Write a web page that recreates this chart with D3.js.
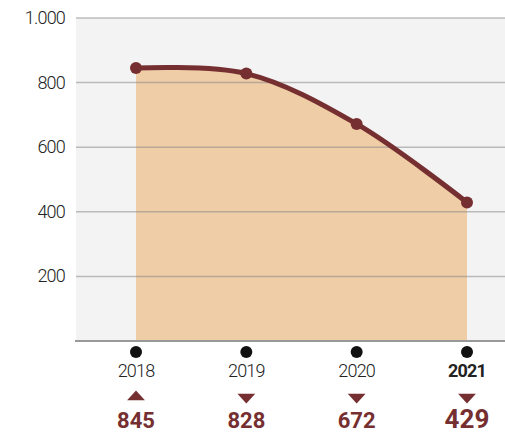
<!DOCTYPE html>
<html>
<head>
<meta charset="utf-8">
<script src="https://cdn.jsdelivr.net/npm/d3@7"></script>
<style>
  body { margin: 0; background: #fff; }
  svg { display: block; font-family: Roboto, "Noto Sans", sans-serif; }
</style>
</head>
<body>
<div id="chart"></div>
<script>
var years = ["2018", "2019", "2020", "2021"];
var values = [845, 828, 672, 429];
var trend = ["up", "down", "down", "down"];
var yTicks = [200, 400, 600, 800, 1000];
var yTickLabels = ["200", "400", "600", "800", "1.000"];

var svgwidth = 505;
var svgheight = 434;

var svg = d3.select("#chart")
  .append("svg")
  .attr("width", svgwidth)
  .attr("height", svgheight);

var plotLeft = 76, plotRight = 505, plotTop = 18, plotBottom = 341;

var xscale = d3.scalePoint()
  .domain(years)
  .range([136, 467]);

var yscale = d3.scaleLinear()
  .domain([0, 1000])
  .range([plotBottom, plotTop]);

// background
svg.append("rect")
  .attr("x", plotLeft)
  .attr("y", plotTop)
  .attr("width", plotRight - plotLeft)
  .attr("height", plotBottom - plotTop)
  .attr("fill", "#f3f3f3");

var data = years.map(function(y, i) { return {year: y, value: values[i]}; });

var curve = d3.curveCatmullRom.alpha(0.5);

var area = d3.area()
  .x(d => xscale(d.year))
  .y0(yscale(0))
  .y1(d => yscale(d.value))
  .curve(curve);

svg.append("path")
  .datum(data)
  .attr("d", area)
  .attr("fill", "#efcda6");

// gridlines
svg.selectAll(".grid")
  .data(yTicks)
  .enter()
  .append("line")
  .attr("x1", plotLeft)
  .attr("x2", plotRight)
  .attr("y1", d => yscale(d))
  .attr("y2", d => yscale(d))
  .attr("stroke", "#8a8a8a")
  .attr("stroke-opacity", 0.55)
  .attr("stroke-width", 1.5);

svg.append("line")
  .attr("x1", plotLeft - 1)
  .attr("x2", plotRight)
  .attr("y1", yscale(0))
  .attr("y2", yscale(0))
  .attr("stroke", "#999")
  .attr("stroke-width", 2);

// y labels
svg.selectAll(".ylab")
  .data(yTicks)
  .enter()
  .append("text")
  .attr("x", 65)
  .attr("y", d => yscale(d) + 6)
  .attr("text-anchor", "end")
  .attr("font-size", 18)
  .attr("font-weight", 300)
  .attr("letter-spacing", -0.8)
  .attr("fill", "#222")
  .text((d, i) => yTickLabels[i]);

// line
var line = d3.line()
  .x(d => xscale(d.year))
  .y(d => yscale(d.value))
  .curve(curve);

svg.append("path")
  .datum(data)
  .attr("d", line)
  .attr("fill", "none")
  .attr("stroke", "#762f30")
  .attr("stroke-width", 5);

svg.selectAll(".pt")
  .data(data)
  .enter()
  .append("circle")
  .attr("cx", d => xscale(d.year))
  .attr("cy", d => yscale(d.value))
  .attr("r", 6)
  .attr("fill", "#762f30");

// x axis dots + labels
svg.selectAll(".xdot")
  .data(data)
  .enter()
  .append("circle")
  .attr("cx", d => xscale(d.year))
  .attr("cy", 352)
  .attr("r", 6)
  .attr("fill", "#111");

svg.selectAll(".xlab")
  .data(data)
  .enter()
  .append("text")
  .attr("x", d => xscale(d.year))
  .attr("y", 377)
  .attr("text-anchor", "middle")
  .attr("font-size", 18)
  .attr("letter-spacing", -0.8)
  .attr("font-weight", (d, i) => i == years.length - 1 ? "bold" : 300)
  .attr("fill", "#222")
  .text(d => d.year);

// triangles
var tri = d3.symbol().type(d3.symbolTriangle).size(70);
svg.selectAll(".tri")
  .data(data)
  .enter()
  .append("path")
  .attr("d", tri)
  .attr("transform", (d, i) => `translate(${xscale(d.year)}, 397) rotate(${trend[i] == "up" ? 0 : 180}) scale(1.4, 0.9)`)
  .attr("fill", "#762f30");

svg.selectAll(".val")
  .data(data)
  .enter()
  .append("text")
  .attr("x", d => xscale(d.year))
  .attr("y", 428)
  .attr("text-anchor", "middle")
  .attr("font-size", (d, i) => i == years.length - 1 ? 26 : 22)
  .attr("font-weight", "bold")
  .attr("fill", "#762f30")
  .text(d => d.value);
</script>
</body>
</html>
